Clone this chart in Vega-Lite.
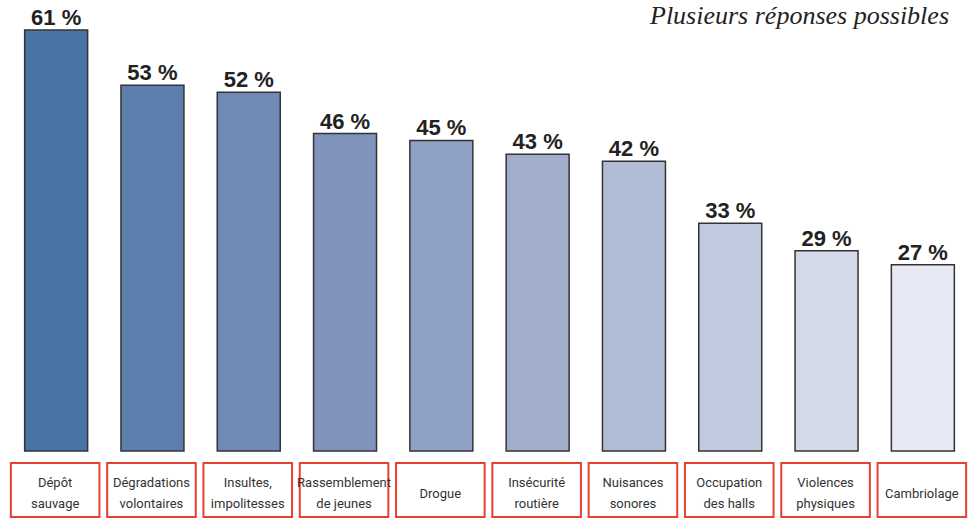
{
  "$schema": "https://vega.github.io/schema/vega-lite/v6.json",
  "padding": {"left": 8, "top": 0, "right": 0, "bottom": 0},
  "background": "white",
  "config": {"view": {"stroke": null}},
  "datasets": {
    "d": [
      {"cat": "Dépôt sauvage", "l1": "Dépôt", "l2": "sauvage", "mid": "", "value": 61},
      {"cat": "Dégradations volontaires", "l1": "Dégradations", "l2": "volontaires", "mid": "", "value": 53},
      {"cat": "Insultes, impolitesses", "l1": "Insultes,", "l2": "impolitesses", "mid": "", "value": 52},
      {"cat": "Rassemblement de jeunes", "l1": "Rassemblement", "l2": "de jeunes", "mid": "", "value": 46},
      {"cat": "Drogue", "l1": "", "l2": "", "mid": "Drogue", "value": 45},
      {"cat": "Insécurité routière", "l1": "Insécurité", "l2": "routière", "mid": "", "value": 43},
      {"cat": "Nuisances sonores", "l1": "Nuisances", "l2": "sonores", "mid": "", "value": 42},
      {"cat": "Occupation des halls", "l1": "Occupation", "l2": "des halls", "mid": "", "value": 33},
      {"cat": "Violences physiques", "l1": "Violences", "l2": "physiques", "mid": "", "value": 29},
      {"cat": "Cambriolage", "l1": "", "l2": "", "mid": "Cambriolage", "value": 27}
    ]
  },
  "spacing": 10,
  "vconcat": [
    {
      "width": 963,
      "height": 451,
      "data": {"name": "d"},
      "title": {
        "text": "Plusieurs réponses possibles",
        "anchor": "end",
        "orient": "top",
        "frame": "group",
        "offset": -29,
        "font": "Liberation Serif",
        "fontStyle": "italic",
        "fontWeight": "normal",
        "fontSize": 26,
        "color": "#222222",
        "dx": -22
      },
      "transform": [{"calculate": "datum.value + ' %'", "as": "pct"}],
      "encoding": {
        "x": {"field": "cat", "type": "nominal", "sort": null, "axis": null,
              "scale": {"paddingInner": 0, "paddingOuter": 0}},
        "y": {"field": "value", "type": "quantitative", "axis": null,
              "scale": {"domain": [0, 65.35], "nice": false, "zero": true}}
      },
      "layer": [
        {
          "mark": {"type": "bar", "width": {"band": 0.654}, "stroke": "#333333", "strokeWidth": 1.5},
          "encoding": {
            "color": {"field": "cat", "type": "nominal", "sort": null, "legend": null,
              "scale": {"range": ["#4a74a6", "#5d7fad", "#6f8ab4", "#8094bb", "#8fa1c5", "#a0aecc", "#b1bcd6", "#c2cae0", "#d3d9e9", "#e7eaf4"]}}
          }
        },
        {
          "mark": {"type": "text", "baseline": "alphabetic", "dy": -5, "font": "Liberation Sans", "fontWeight": "bold", "fontSize": 22, "color": "#222222"},
          "encoding": {"text": {"field": "pct"}}
        }
      ]
    },
    {
      "width": 963,
      "height": 54,
      "data": {"name": "d"},
      "encoding": {
        "x": {"field": "cat", "type": "nominal", "sort": null, "axis": null,
              "scale": {"paddingInner": 0, "paddingOuter": 0}},
        "y": {"datum": 0, "type": "quantitative", "axis": null,
              "scale": {"domain": [0, 1], "nice": false}}
      },
      "layer": [
        {
          "mark": {"type": "bar", "width": {"band": 0.92}, "xOffset": -1, "fill": "white", "stroke": "#e8402f", "strokeWidth": 2},
          "encoding": {"y2": {"datum": 1}}
        },
        {
          "mark": {"type": "text", "font": "Roboto", "fontSize": 13, "color": "#333333", "baseline": "middle", "dy": -7, "xOffset": -1},
          "encoding": {"text": {"field": "l1"}, "y": {"datum": 0.5, "type": "quantitative"}}
        },
        {
          "mark": {"type": "text", "font": "Roboto", "fontSize": 13, "color": "#333333", "baseline": "middle", "dy": 14, "xOffset": -1},
          "encoding": {"text": {"field": "l2"}, "y": {"datum": 0.5, "type": "quantitative"}}
        },
        {
          "mark": {"type": "text", "font": "Roboto", "fontSize": 13, "color": "#333333", "baseline": "middle", "dy": 4, "xOffset": -1},
          "encoding": {"text": {"field": "mid"}, "y": {"datum": 0.5, "type": "quantitative"}}
        }
      ]
    }
  ]
}
